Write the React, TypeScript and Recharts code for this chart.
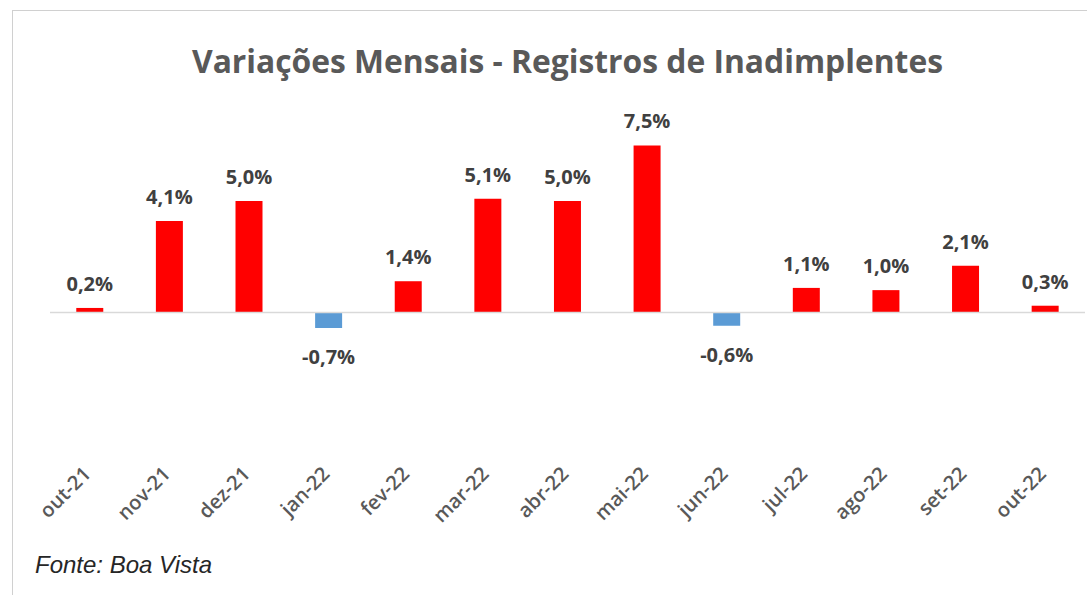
import { BarChart, Bar, XAxis, YAxis, Cell, LabelList, ReferenceLine } from "recharts";

const months = [
  "out-21", "nov-21", "dez-21", "jan-22", "fev-22", "mar-22", "abr-22",
  "mai-22", "jun-22", "jul-22", "ago-22", "set-22", "out-22",
];
const variation = [0.2, 4.1, 5.0, -0.7, 1.4, 5.1, 5.0, 7.5, -0.6, 1.1, 1.0, 2.1, 0.3];

const data = months.map((m, i) => ({ month: m, value: variation[i] }));

const fmt = (v: number) => v.toFixed(1).replace(".", ",") + "%";

function BarLabel(props: any) {
  const { x, y, width, height, value } = props;
  const top = Math.min(y, y + height);
  const bottom = Math.max(y, y + height);
  const cx = x + width / 2;
  const ty = value >= 0 ? top - 17 : bottom + 36;
  return (
    <text
      x={cx}
      y={ty}
      textAnchor="middle"
      fontFamily="Open Sans"
      fontWeight={700}
      fontSize={20}
      fill="#404040"
    >
      {fmt(value)}
    </text>
  );
}

function MonthTick(props: any) {
  const { x, y, payload } = props;
  return (
    <g transform={`translate(${x - 2},${y + 17})`}>
      <text
        transform="rotate(-45)"
        textAnchor="end"
        fontFamily="Open Sans"
        fontWeight={600}
        fontSize={20}
        fill="#595959"
        dy={6}
      >
        {payload.value}
      </text>
    </g>
  );
}

export default function App() {
  return (
    <div
      style={{
        position: "fixed",
        left: 0,
        top: 0,
        width: 1087,
        height: 595,
        background: "#fff",
        overflow: "hidden",
      }}
    >
      <div
        style={{
          position: "absolute",
          left: 12,
          top: 10,
          width: 1100,
          height: 620,
          border: "1px solid #d0d0d0",
        }}
      />
      <div
        style={{
          position: "absolute",
          left: 0,
          top: 41,
          width: 1135,
          textAlign: "center",
          fontFamily: "Open Sans",
          fontWeight: 700,
          fontSize: 31.8,
          lineHeight: "40px",
          color: "#595959",
          whiteSpace: "nowrap",
        }}
      >
        Variações Mensais - Registros de Inadimplentes
      </div>
      <div style={{ position: "absolute", left: 0, top: 0 }}>
        <BarChart
          width={1087}
          height={595}
          data={data}
          margin={{ top: 112, right: 2, bottom: 69, left: 50 }}
          barCategoryGap="33%"
        >
          <XAxis
            dataKey="month"
            axisLine={false}
            tickLine={false}
            height={80}
            interval={0}
            tick={<MonthTick />}
          />
          <YAxis hide domain={[-6, 9]} />
          <ReferenceLine y={0} stroke="#d9d9d9" strokeWidth={1.5} />
          <Bar dataKey="value" isAnimationActive={false}>
            {data.map((d) => (
              <Cell key={d.month} fill={d.value < 0 ? "#5b9bd5" : "#ff0000"} />
            ))}
            <LabelList dataKey="value" content={<BarLabel />} />
          </Bar>
        </BarChart>
      </div>
      <div
        style={{
          position: "absolute",
          left: 35,
          top: 551,
          fontFamily: "Liberation Sans",
          fontStyle: "italic",
          fontSize: 24,
          lineHeight: "28px",
          color: "#262626",
        }}
      >
        Fonte: Boa Vista
      </div>
    </div>
  );
}
